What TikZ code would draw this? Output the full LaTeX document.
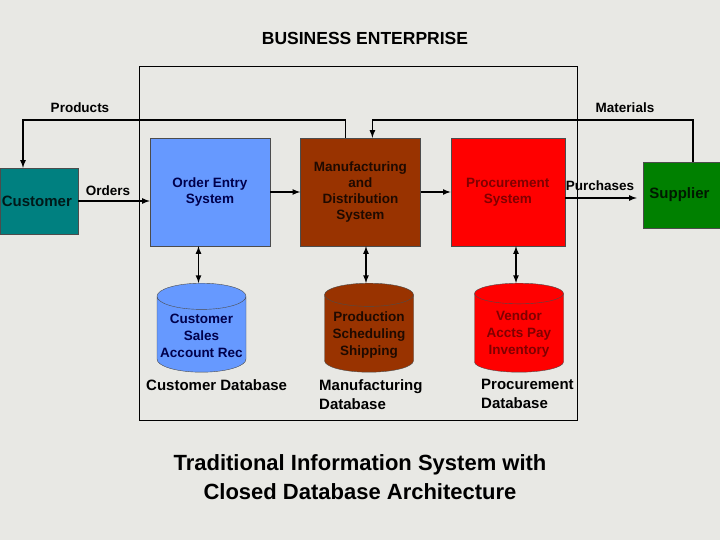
\documentclass[tikz,border=0pt]{standalone}
\usepackage{fontspec}
\setmainfont{Liberation Sans}
\usetikzlibrary{
	arrows,
	calc,
	positioning,
	shapes.geometric
}

\definecolor{paper}{RGB}{232,232,228}
\definecolor{oeblue}{RGB}{102,153,255}
\definecolor{mfbrown}{RGB}{153,51,0}
\definecolor{pcred}{RGB}{255,0,0}
\definecolor{custteal}{RGB}{0,128,128}
\definecolor{suppgreen}{RGB}{0,128,0}

\begin{document}
\begin{tikzpicture} [
		x = 1pt,
		y = -1pt,
		box/.style = {
			rectangle,
			draw = black!70,
			thin,
			align = center,
			inner sep = 2pt,
			font = \fontsize{13.5}{16}\selectfont\bfseries,
		},
		system/.style = {
			box,
			minimum width = 120pt,
			minimum height = 108pt,
		},
		party/.style = {
			box,
			minimum width = 78pt,
			minimum height = 66pt,
			font = \fontsize{15}{18}\selectfont\bfseries,
		},
		dbase/.style = {
			cylinder,
			shape border rotate = 90,
			aspect = 0.31,
			draw = black!70,
			thin,
			minimum width = 89pt,
			minimum height = 89pt,
			align = center,
			inner sep = 1pt,
			anchor = north,
			font = \fontsize{13.5}{17}\selectfont\bfseries,
		},
		line/.style = {
			draw,
			line width = 1.6pt,
			-latex,
		},
		dbline/.style = {
			line,
			latex-latex,
		},
		line-caption/.style = {
			font = \fontsize{13.5}{16}\selectfont\bfseries
		},
		db-caption/.style = {
			font = \fontsize{15}{19}\selectfont\bfseries,
			align = left,
			inner sep = 0pt,
		}
	]

	\fill[paper] (0,0) rectangle (720,540);
	\useasboundingbox (0,0) rectangle (720,540);

	\node[font = \fontsize{17.5}{20}\selectfont\bfseries] (title) at (365,38) {
		BUSINESS ENTERPRISE
	};
	\draw[thin] (139,66) rectangle (577,420);

	\node[system, fill = oeblue, text = blue!30!black] (oes) at (210,192) {
		Order Entry\\System
	};
	\node[system, fill = mfbrown, text = black!80!mfbrown, right = 30pt of oes] (mds) {
		Manufacturing\\and\\Distribution\\System
	};
	\node[system, fill = pcred, text = red!50!black, minimum width = 114pt, right = 30pt of mds] (pcs) {
		Procurement\\System
	};

	\node[party, fill = custteal, text = black!80!custteal] (cust) at (39,201) {
		Customer
	};
	\node[party, fill = suppgreen, text = black!80!suppgreen, minimum width = 77pt] (supp) at (681.5,195) {
		Supplier
	};

	\node[dbase, fill = oeblue, text = blue!30!black] (cdb) at (201.5,283) {
		Customer\\Sales\\Account Rec
	};
	\node[dbase, fill = mfbrown, text = black!80!mfbrown] (mdb) at (369,283) {
		Production\\Scheduling\\Shipping
	};
	\node[dbase, fill = pcred, text = red!50!black] (pdb) at (519,283) {
		Vendor\\Accts Pay\\Inventory
	};

	\node[db-caption, anchor = north west] (cdbl) at (146,379) {Customer Database};
	\node[db-caption, anchor = north west] (mdbl) at (319,379) {Manufacturing\\Database};
	\node[db-caption, anchor = north west] (pdbl) at (481,379) {Procurement\\Database};

	\node[font = \fontsize{22}{29}\selectfont\bfseries, align = center] (caption) at (360,477) {
		Traditional Information System with\\Closed Database Architecture
	};

	% flows through the enterprise
	\node[line-caption] (prod) at (80,108) {Products};
	\node[line-caption] (mat) at (625,108) {Materials};
	\node[line-caption] (ord) at (108,191) {Orders};
	\node[line-caption] (purch) at (600,186) {Purchases};

	\path[line] ([xshift = -15pt]mds.north) -- ++(0,-18) -| ([xshift = -16pt]cust.north);
	\path[line] ([xshift = 11.5pt]supp.north) -- ++(0,-42) -| ([xshift = 12pt]mds.north);
	\path[line] (cust.east) -- (cust.east -| oes.west);
	\path[line] (oes) -- (mds);
	\path[line] (mds) -- (pcs);
	\path[line, shorten >= 6pt] ([yshift = -6pt]pcs.east) -- ([yshift = -6pt]pcs.east -| supp.west);

	% systems to their databases
	\path[dbline] ([xshift = -3pt]cdb.north) -- ([xshift = -3pt]cdb.north |- oes.south);
	\path[dbline] ([xshift = -3pt]mdb.north) -- ([xshift = -3pt]mdb.north |- mds.south);
	\path[dbline] ([xshift = -3pt]pdb.north) -- ([xshift = -3pt]pdb.north |- pcs.south);
\end{tikzpicture}
\end{document}
